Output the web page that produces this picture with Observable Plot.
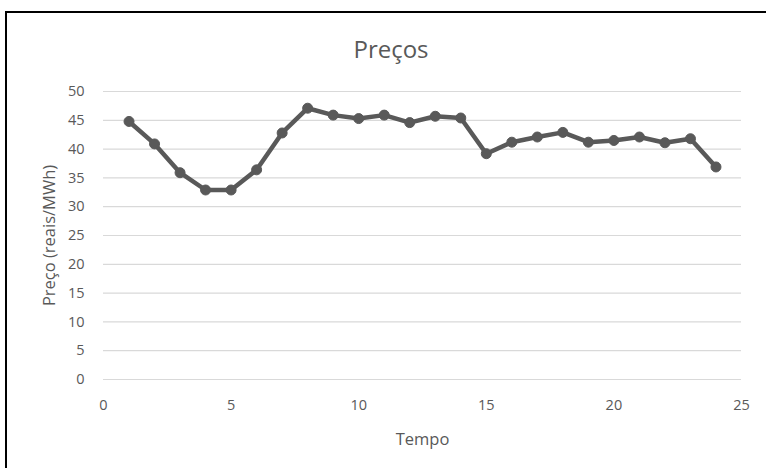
<!DOCTYPE html>
<html>
<head>
<meta charset="utf-8">
<script src="https://cdn.jsdelivr.net/npm/d3@7"></script>
<script src="https://cdn.jsdelivr.net/npm/@observablehq/plot@0.6"></script>
<style>
  html, body { margin: 0; padding: 0; background: #fff; overflow: hidden; width: 766px; height: 468px; }
  #wrap { position: relative; width: 766px; height: 468px; font-family: "Open Sans", "Noto Sans", sans-serif; }
  #frame { position: absolute; left: 5px; top: 11px; width: 800px; height: 500px; border-left: 2px solid #000; border-top: 2px solid #000; box-sizing: border-box; pointer-events: none; }
  #title { position: absolute; left: 0; width: 782px; top: 35px; text-align: center; font-size: 24px; color: #595959; line-height: 28px; }
  #chart { position: absolute; left: 0; top: 0; }
</style>
</head>
<body>
<div id="wrap">
  <div id="chart"></div>
  <div id="title">Preços</div>
  <div id="frame"></div>
</div>
<script>
const tempo = [1,2,3,4,5,6,7,8,9,10,11,12,13,14,15,16,17,18,19,20,21,22,23,24];
const precos = [44.8,40.9,35.9,32.9,32.9,36.4,42.8,47.1,45.9,45.3,45.9,44.6,45.7,45.4,39.2,41.2,42.1,42.9,41.2,41.5,42.1,41.1,41.8,36.9];
const xTicks = [0,5,10,15,20,25];
const yTicks = [0,5,10,15,20,25,30,35,40,45,50];
const data = tempo.map((t, i) => ({tempo: t, preco: precos[i]}));

const grey = "#595959";
const chart = Plot.plot({
  width: 766,
  height: 468,
  marginLeft: 103,
  marginRight: 25,
  marginTop: 91,
  marginBottom: 89,
  style: { fontFamily: "'Open Sans', 'Noto Sans', sans-serif", fontSize: "14px", color: grey, background: "transparent" },
  x: { domain: [0, 25], ticks: xTicks, label: null },
  y: { domain: [0, 50], ticks: yTicks, label: null },
  marks: [
    Plot.gridY(yTicks, { stroke: "#d9d9d9", strokeOpacity: 1, strokeWidth: 1.2 }),
    Plot.axisY(yTicks, { tickSize: 0, tickPadding: 19, fill: grey, fontSize: 14.5 }),
    Plot.axisX(xTicks, { tickSize: 0, tickPadding: 20, fill: grey, fontSize: 14.5 }),
    Plot.text(["Preço (reais/MWh)"], { frameAnchor: "left", dx: -54, rotate: -90, textAnchor: "middle", lineAnchor: "middle", fill: grey, fontSize: 16.5 }),
    Plot.text(["Tempo"], { frameAnchor: "bottom", dy: 60, textAnchor: "middle", lineAnchor: "middle", fill: grey, fontSize: 16.5 }),
    Plot.line(data, { x: "tempo", y: "preco", stroke: grey, strokeWidth: 4.5, strokeLinejoin: "round" }),
    Plot.dot(data, { x: "tempo", y: "preco", r: 5, fill: grey, stroke: grey, strokeWidth: 1 })
  ]
});
document.getElementById("chart").appendChild(chart);
</script>
</body>
</html>
